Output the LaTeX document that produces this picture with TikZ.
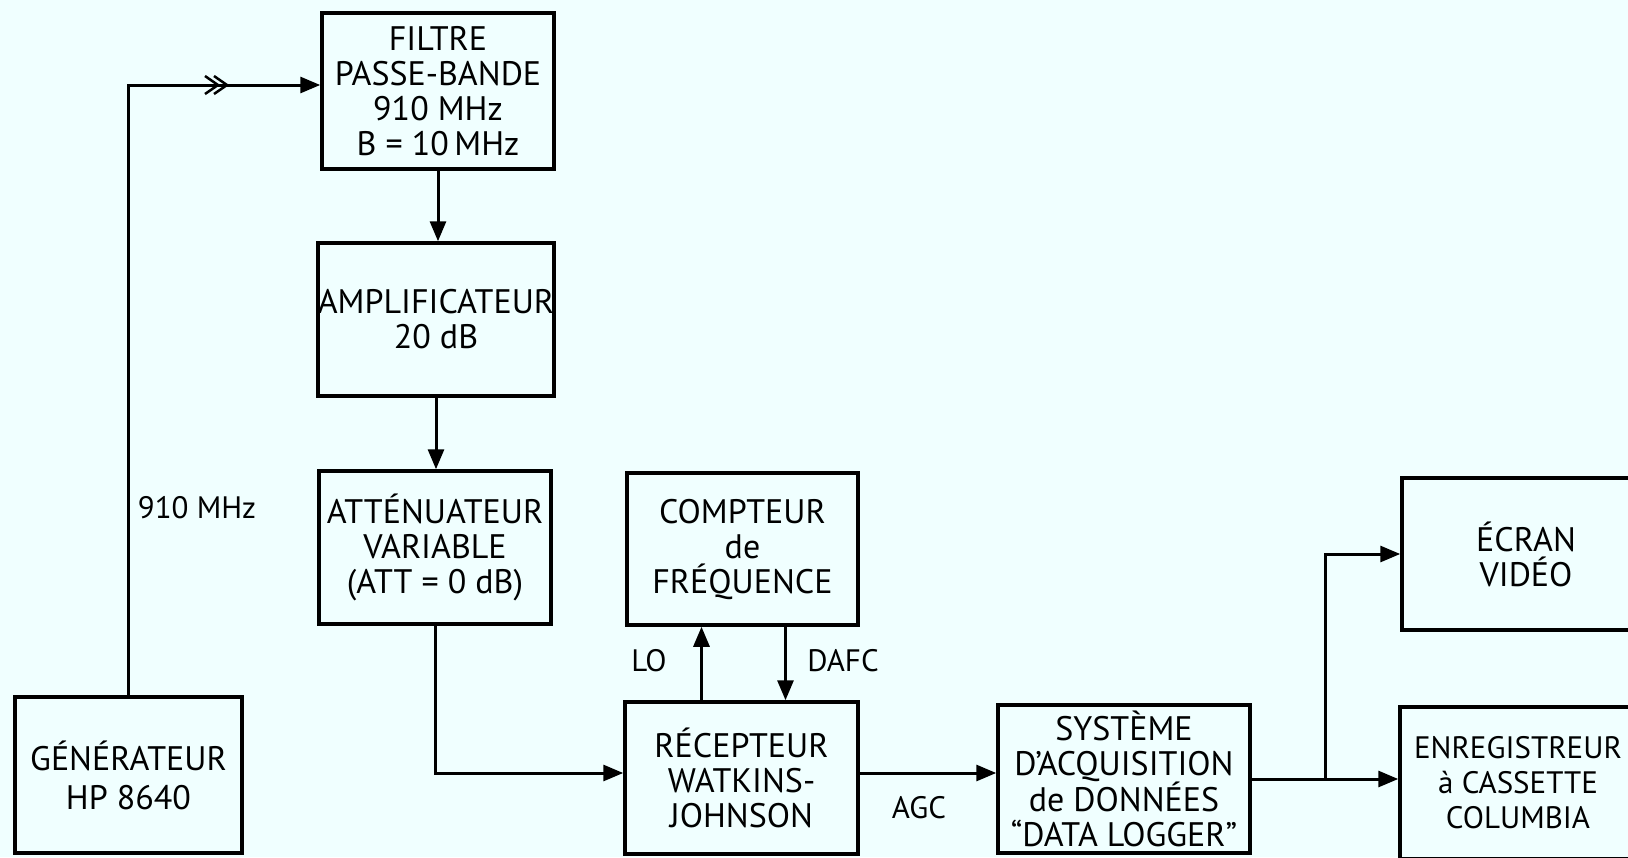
\documentclass[tikz,border=0pt]{standalone}
\usepackage{fontspec}
\setmainfont{PT Sans}
\usetikzlibrary{arrows.meta}
\definecolor{bg}{RGB}{240,255,255}
\begin{document}
\begin{tikzpicture}[x=1pt,y=-1pt,
  box/.style={draw=black, line width=3.5pt, align=center, inner sep=0pt, font=\fontsize{34}{35}\selectfont},
  lbl/.style={font=\fontsize{31}{34}\selectfont, inner sep=0pt},
  wire/.style={line width=3pt},
  conn/.style={wire, -{Triangle[length=20pt,width=16pt]}}]
\fill[bg] (0,0) rectangle (1628,857);
\useasboundingbox (0,0) rectangle (1628,857);
\clip (0,0) rectangle (1628,857);

\node[box, minimum width=232pt, minimum height=156pt] (filt) at (438,91) {FILTRE\\PASSE-BANDE\\910 MHz\\B = 10\,MHz};
\node[box, minimum width=232pt, minimum height=153pt] (amp) at (436,319.5) {AMPLIFICATEUR\\20 dB};
\node[box, minimum width=232pt, minimum height=153pt] (att) at (435,547.5) {ATTÉNUATEUR\\VARIABLE\\(ATT = 0 dB)};
\node[box, minimum width=227pt, minimum height=156pt] (gen) at (128.5,775) {GÉNÉRATEUR\\[4pt]HP 8640};
\node[box, minimum width=231pt, minimum height=152pt] (cpt) at (742.5,549) {COMPTEUR\\de\\FRÉQUENCE};
\node[box, minimum width=233pt, minimum height=152pt] (rec) at (741.5,778) {RÉCEPTEUR\\WATKINS-\\JOHNSON};
\node[box, minimum width=252pt, minimum height=148pt] (sys) at (1124,779) {SYSTÈME\\D'ACQUISITION\\de DONNÉES\\“DATA LOGGER”};
\node[box, minimum width=248pt, minimum height=152pt] (ecr) at (1526,554) {ÉCRAN\\VIDÉO};
\node[box, minimum width=236pt, minimum height=152pt, font=\fontsize{31}{35}\selectfont] (enr) at (1518,783) {ENREGISTREUR\\à CASSETTE\\COLUMBIA};

\node[lbl] (f910) at (197,508) {910 MHz};
\node[lbl] (lo) at (649,661) {LO};
\node[lbl] (dafc) at (843,661) {DAFC};
\node[lbl] (agc) at (919,808) {AGC};

% generator to filter
\draw[conn] (gen.north) |- ([yshift=6pt]filt.west);
\coordinate (ch) at (218,85);
\draw[line width=2.5pt] ([shift={(-13,-9)}]ch) -- (ch) -- ([shift={(-13,9)}]ch);
\draw[line width=2.5pt] ([shift={(-4,-9)}]ch) -- ([shift={(9,0)}]ch) -- ([shift={(-4,9)}]ch);

\draw[conn] (filt.south) -- (filt.south |- amp.north);
\draw[conn] (amp.south) -- (amp.south |- att.north);
\draw[conn] (att.south) |- ([yshift=5pt]rec.west);

\draw[conn] ([xshift=-40pt]rec.north) -- ([xshift=-40pt]rec.north |- cpt.south);
\draw[conn] ([xshift=43pt]cpt.south) -- ([xshift=43pt]cpt.south |- rec.north);

\draw[conn] ([yshift=5pt]rec.east) -- ([yshift=5pt]rec.east -| sys.west);

\path (sys.east) -- ++(74,0) coordinate (split);
\draw[conn] (sys.east) -- (sys.east -| enr.west);
\draw[conn] (split) |- (ecr.west);
\end{tikzpicture}
\end{document}
